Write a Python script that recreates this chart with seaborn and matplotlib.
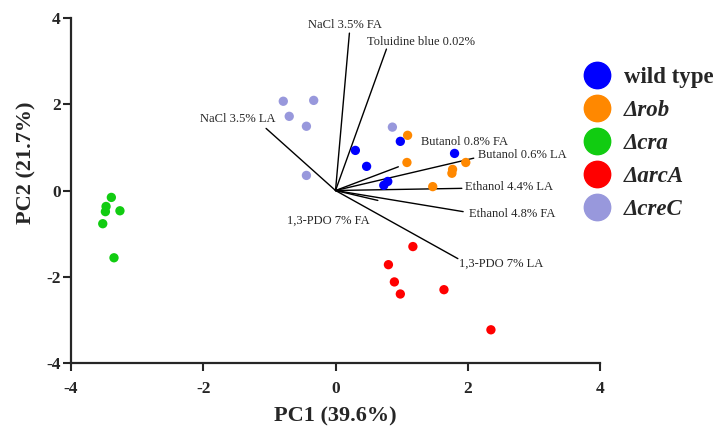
import numpy as np
import pandas as pd
import seaborn as sns
import matplotlib.pyplot as plt
from matplotlib.lines import Line2D

# PCA scores, one list per strain
groups = ["wild type", "Δrob", "Δcra", "ΔarcA", "ΔcreC"]
colors = ["#0000ff", "#ff8800", "#11cc11", "#ff0000", "#9898dc"]

wt_x = [0.30, 0.47, 0.98, 1.80, 0.73, 0.79]
wt_y = [0.93, 0.56, 1.14, 0.86, 0.12, 0.21]
rob_x = [1.09, 1.08, 1.77, 1.76, 1.97, 1.47]
rob_y = [1.28, 0.65, 0.49, 0.40, 0.65, 0.09]
cra_x = [-3.39, -3.47, -3.48, -3.26, -3.52, -3.35]
cra_y = [-0.16, -0.37, -0.49, -0.47, -0.77, -1.56]
arc_x = [1.17, 0.80, 0.89, 0.98, 1.64, 2.35]
arc_y = [-1.30, -1.72, -2.12, -2.40, -2.30, -3.23]
cre_x = [-0.79, -0.33, -0.70, -0.44, 0.86, -0.44]
cre_y = [2.07, 2.09, 1.72, 1.49, 1.47, 0.35]

# loading vectors (tip coordinates)
load_names = ["NaCl 3.5% FA", "Toluidine blue 0.02%", "NaCl 3.5% LA",
              "Butanol 0.8% FA", "Butanol 0.6% LA", "Ethanol 4.4% LA",
              "Ethanol 4.8% FA", "1,3-PDO 7% LA", "1,3-PDO 7% FA"]
load_x = [0.21, 0.77, -1.05, 0.95, 2.09, 1.91, 1.93, 1.85, 0.64]
load_y = [3.65, 3.28, 1.44, 0.55, 0.75, 0.05, -0.49, -1.58, -0.23]

# label placement: offset in points and alignment
label_off = [(-3.5, 6), (-14, 5), (6.5, 6.5), (16.5, 18), (3, 2),
             (2, 1), (4, -1.5), (1, -3.5), (-6, -14.5)]
label_ha = ["center", "left", "right", "left", "left",
            "left", "left", "left", "right"]

xs = [wt_x, rob_x, cra_x, arc_x, cre_x]
ys = [wt_y, rob_y, cra_y, arc_y, cre_y]
df = pd.DataFrame({
    "PC1": np.concatenate(xs),
    "PC2": np.concatenate(ys),
    "strain": np.repeat(groups, [len(v) for v in xs]),
})

sns.set_style("ticks")
plt.rcParams["font.family"] = ["Liberation Serif", "DejaVu Serif"]

fig = plt.figure(figsize=(7.18, 4.26), dpi=100)
ax = fig.add_axes([0.0989, 0.1479, 0.7368, 0.8098])

sns.scatterplot(data=df, x="PC1", y="PC2", hue="strain", hue_order=groups,
                palette=colors, s=45, edgecolor="none", legend=False, ax=ax, zorder=3)

for name, lx, ly, off, ha in zip(load_names, load_x, load_y, label_off, label_ha):
    ax.plot([0, lx], [0, ly], color="black", lw=1.0, zorder=2)
    ax.annotate(name, (lx, ly), xytext=off, textcoords="offset points",
                ha=ha, va="center", fontsize=9)

ax.set_xlim(-4, 4)
ax.set_ylim(-4, 4)
ax.set_xticks([-4, -2, 0, 2, 4])
ax.set_yticks([-4, -2, 0, 2, 4])
ax.set_xticklabels(["-4", "-2", "0", "2", "4"])
ax.set_yticklabels(["-4", "-2", "0", "2", "4"])
ax.tick_params(width=1.5, length=6, labelsize=12.5)
ax.tick_params(axis="x", pad=7)
ax.tick_params(axis="y", pad=1.5)
for lab in ax.get_xticklabels() + ax.get_yticklabels():
    lab.set_fontweight("bold")
for sp in ["left", "bottom"]:
    ax.spines[sp].set_linewidth(1.6)
sns.despine(ax=ax)

ax.set_xlabel("PC1 (39.6%)", fontsize=16, fontweight="bold")
ax.set_ylabel("PC2 (21.7%)", fontsize=16, fontweight="bold")
ax.xaxis.set_label_coords(0.5, -0.125)
ax.yaxis.set_label_coords(-0.066, 0.58)

handles = [Line2D([], [], marker="o", ls="", color=c, markersize=19) for c in colors]
leg = fig.legend(handles, groups, loc="upper left", bbox_to_anchor=(0.812, 0.843),
                 frameon=False, fontsize=16.5, labelspacing=0.52, handletextpad=0.57,
                 handlelength=1.2, borderaxespad=0, borderpad=0)
for i, t in enumerate(leg.get_texts()):
    t.set_fontweight("bold")
    if i > 0:
        t.set_fontstyle("italic")

fig.savefig("out.png", dpi=100)
